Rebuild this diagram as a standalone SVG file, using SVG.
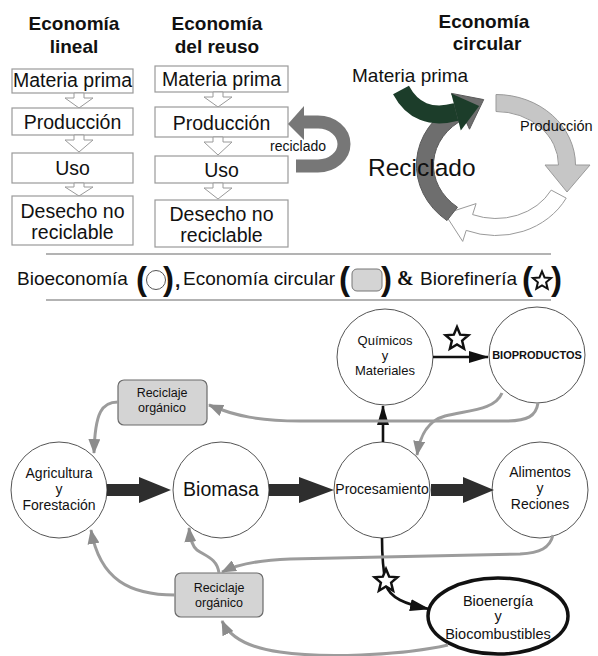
<svg xmlns="http://www.w3.org/2000/svg" width="598" height="656" viewBox="0 0 598 656">
<style>
text{font-family:"Liberation Sans",Arial,sans-serif;fill:#111}
.t{font-size:19px;font-weight:bold;text-anchor:middle}
.bx{fill:#fff;stroke:#9a9a9a;stroke-width:1.2}
.bt{font-size:19.5px;text-anchor:middle}
.chev{fill:#fff;stroke:#9a9a9a;stroke-width:1}
.nd{fill:#fff;stroke:#555;stroke-width:1}
.ct{font-size:14px;text-anchor:middle}
.rb{fill:#d4d4d4;stroke:#6a6a6a;stroke-width:1.2}
.rt{font-size:12.5px;text-anchor:middle}
.g{fill:none;stroke:#9c9c9c;stroke-width:3;marker-end:url(#ga)}
.k{fill:none;stroke:#111;stroke-width:2.6;marker-end:url(#ba)}
.thick{fill:#2e2e2e}
.star{fill:#fff;stroke:#111;stroke-width:2.5;stroke-linejoin:miter}
.br{font-size:33px;font-weight:bold}
.lg{font-size:19px}
.sep{stroke:#9a9a9a;stroke-width:1.5}
</style>
<defs>
<marker id="ga" markerWidth="15" markerHeight="12" refX="14" refY="6" orient="auto" markerUnits="userSpaceOnUse"><path d="M0,0 L15,6 L0,12 Z" fill="#8c8c8c"/></marker>
<marker id="ba" markerWidth="20" markerHeight="12" refX="19" refY="6" orient="auto" markerUnits="userSpaceOnUse"><path d="M0,0 L20,6 L0,12 Z" fill="#111"/></marker>
<polygon id="starShape" points="0,-12 3.18,-4.37 11.41,-3.71 5.14,1.67 7.06,9.71 0,5.4 -7.06,9.71 -5.14,1.67 -11.41,-3.71 -3.18,-4.37"/>
</defs>

<!-- Economía lineal -->
<g id="lineal">
<text class="t" x="74" y="30">Economía</text>
<text class="t" x="74" y="53">lineal</text>
<rect class="bx" x="12" y="69" width="121" height="24"/>
<text class="bt" x="72.5" y="87">Materia prima</text>
<polygon class="chev" points="74,93 74,98 65,98 79,108 93,98 84,98 84,93"/>
<rect class="bx" x="12" y="108" width="121" height="27"/>
<text class="bt" x="72.5" y="129">Producción</text>
<polygon class="chev" points="74,135 74,140 65,140 79,152 93,140 84,140 84,135"/>
<rect class="bx" x="12" y="153" width="121" height="30"/>
<text class="bt" x="72.5" y="175">Uso</text>
<polygon class="chev" points="74,183 74,187 65,187 79,196 93,187 84,187 84,183"/>
<rect class="bx" x="12" y="196" width="121" height="49"/>
<text class="bt" x="72.5" y="218">Desecho no</text>
<text class="bt" x="72.5" y="239">reciclable</text>
</g>

<!-- Economía del reuso -->
<g id="reuso">
<text class="t" x="217" y="30">Economía</text>
<text class="t" x="217" y="53">del reuso</text>
<rect class="bx" x="155" y="66" width="133" height="26"/>
<text class="bt" x="221.5" y="86">Materia prima</text>
<polygon class="chev" points="213,92 213,97 204,97 218,107 232,97 223,97 223,92"/>
<rect class="bx" x="155" y="107" width="133" height="30"/>
<text class="bt" x="221.5" y="130">Producción</text>
<polygon class="chev" points="213,137 213,142 204,142 218,155 232,142 223,142 223,137"/>
<rect class="bx" x="155" y="156" width="133" height="27"/>
<text class="bt" x="221.5" y="177">Uso</text>
<polygon class="chev" points="213,183 213,188 204,188 218,199 232,188 223,188 223,183"/>
<rect class="bx" x="155" y="200" width="133" height="47"/>
<text class="bt" x="221.5" y="221">Desecho no</text>
<text class="bt" x="221.5" y="242">reciclable</text>
<path d="M296,166 L318,166 A26,22 0 0 0 318,122 L303,122" fill="none" stroke="#777" stroke-width="13"/>
<polygon points="304,106 304,140 288,124" fill="#777"/>
<text x="270" y="151" font-size="14">reciclado</text>
</g>

<!-- Economía circular -->
<g id="circular">
<text class="t" x="484" y="28">Economía</text>
<text class="t" x="487" y="50">circular</text>
<path d="M496,94.5 A79.5,70.5 0 0 1 575.5,165 L590,165 L567,192 L545,165 L558.5,165 A62.5,53.5 0 0 0 496,111.5 Z" fill="#c6c6c6" stroke="#9a9a9a" stroke-width="1"/>
<path d="M566.2,198.1 A79.5,70.5 0 0 1 466.2,230.4 L462.7,241.4 L444.9,213.8 L476.1,203.6 L472.6,214.6 A62.5,53.5 0 0 0 551.2,190.1 Z" fill="#fff" stroke="#9a9a9a" stroke-width="1"/>
<path d="M447,220.6 A79.5,70.5 0 0 1 456.25,103.9 L451.5,93.4 L483.7,99.6 L469.5,129.2 L464.75,118.7 A62.5,53.5 0 0 0 457.5,207.2 Z" fill="#6e6e6e" stroke="#5a5a5a" stroke-width="1"/>
<path d="M401,90 Q418,122 456,112" fill="none" stroke="#1c3d2a" stroke-width="18"/>
<polygon points="451.2,93.6 479.2,105.9 460.8,130.4" fill="#1c3d2a"/>
<text x="352" y="82" font-size="19">Materia prima</text>
<text x="520" y="131" font-size="14.5">Producción</text>
<text x="368" y="176" font-size="24.5">Reciclado</text>
</g>

<!-- Leyenda -->
<g id="legend">
<line class="sep" x1="46" y1="254" x2="551" y2="254"/>
<line class="sep" x1="46" y1="300" x2="551" y2="300"/>
<text class="lg" x="17" y="285">Bioeconomía</text>
<text class="br" x="136" y="290">(</text>
<circle cx="156" cy="280" r="9.5" fill="#fff" stroke="#555" stroke-width="1"/>
<text class="br" x="163" y="290">)</text>
<text class="lg" x="175" y="287" font-weight="bold">,</text>
<text class="lg" x="183" y="285">Economía circular</text>
<text class="br" x="339" y="290">(</text>
<rect x="352" y="269" width="30" height="22" rx="5" fill="#d4d4d4" stroke="#777" stroke-width="1"/>
<text class="br" x="381" y="290">)</text>
<text x="397" y="285" font-size="20" font-weight="bold" style="font-family:'Liberation Serif','Times New Roman',serif">&amp;</text>
<text class="lg" x="420" y="285">Biorefinería</text>
<text class="br" x="522" y="290">(</text>
<use href="#starShape" class="star" transform="translate(542,281) scale(0.8)"/>
<text class="br" x="551" y="290">)</text>
</g>

<!-- Nodes -->
<g id="agricultura">
<circle class="nd" cx="59" cy="490" r="48"/>
<text class="ct" x="59" y="478">Agricultura</text>
<text class="ct" x="59" y="494">y</text>
<text class="ct" x="59" y="510">Forestación</text>
</g>
<g id="biomasa">
<circle class="nd" cx="221" cy="490" r="48"/>
<text x="221" y="496" font-size="19.5" text-anchor="middle">Biomasa</text>
</g>
<g id="procesamiento">
<circle class="nd" cx="382" cy="490" r="48"/>
<text class="ct" x="382" y="494">Procesamiento</text>
</g>
<g id="alimentos">
<circle class="nd" cx="540" cy="490" r="48"/>
<text class="ct" x="540" y="477">Alimentos</text>
<text class="ct" x="540" y="493">y</text>
<text class="ct" x="540" y="509">Reciones</text>
</g>
<g id="quimicos">
<circle class="nd" cx="385" cy="357" r="48"/>
<text x="385" y="345" font-size="13" text-anchor="middle">Químicos</text>
<text x="385" y="360" font-size="13" text-anchor="middle">y</text>
<text x="385" y="375" font-size="13" text-anchor="middle">Materiales</text>
</g>
<g id="bioproductos">
<circle class="nd" cx="537" cy="355" r="48"/>
<text x="537" y="359" font-size="11" font-weight="bold" text-anchor="middle">BIOPRODUCTOS</text>
</g>
<g id="bioenergia">
<ellipse cx="498" cy="616" rx="70" ry="38" fill="#fff" stroke="#111" stroke-width="3.5"/>
<text x="498" y="606" font-size="14.5" text-anchor="middle">Bioenergía</text>
<text x="498" y="621" font-size="14.5" text-anchor="middle">y</text>
<text x="498" y="639" font-size="14.5" text-anchor="middle">Biocombustibles</text>
</g>
<g id="reciclaje-top">
<rect class="rb" x="118" y="380" width="89" height="45" rx="6"/>
<text class="rt" x="162" y="397">Reciclaje</text>
<text class="rt" x="162" y="412">orgánico</text>
</g>
<g id="reciclaje-bottom">
<rect class="rb" x="175" y="573" width="88" height="44" rx="6"/>
<text class="rt" x="219" y="592">Reciclaje</text>
<text class="rt" x="219" y="607">orgánico</text>
</g>

<!-- Connectors -->
<g id="connectors">
<polygon class="thick" points="107,484 139,484 139,477 171,490 139,503 139,496 107,496"/>
<polygon class="thick" points="269,484 299,484 299,477 334,490 299,503 299,496 269,496"/>
<polygon class="thick" points="431,484 463,484 463,477 494,490 463,503 463,496 431,496"/>
<path class="k" d="M383,442 L383,406"/>
<path class="k" d="M433,357 L488,357"/>
<path class="k" d="M382,538 C382,560 384,575 386,585 C390,598 405,604 429,609"/>
<use href="#starShape" class="star" transform="translate(457,339)"/>
<use href="#starShape" class="star" transform="translate(386,581)"/>
<path class="g" d="M538,403 C536,416 528,421 505,421 L300,421 C260,421 235,416 209,405"/>
<path class="g" d="M502,393 C495,410 470,410 445,416 C427,421 420,436 417,455"/>
<path class="g" d="M118,402 C102,402 95,412 94,453"/>
<path class="g" d="M553,535 C550,548 540,553 520,554 L290,559 C260,560 236,565 222,572"/>
<path class="g" d="M219,573 C217,558 205,556 197,550 C192,546 190,538 189,528"/>
<path class="g" d="M175,595 C130,595 100,580 91,530"/>
<path class="g" d="M448,645 C400,656 320,658 280,652 C250,648 230,638 222,621"/>
</g>
</svg>
